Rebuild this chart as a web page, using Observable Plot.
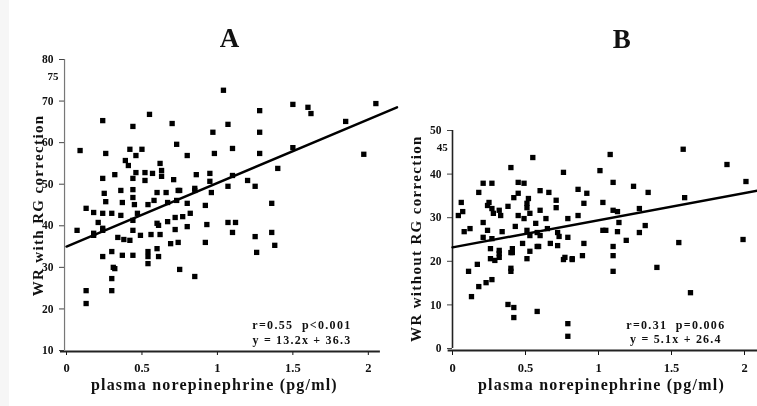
<!DOCTYPE html>
<html><head><meta charset="utf-8">
<script src="https://cdn.jsdelivr.net/npm/d3@7"></script>
<script src="https://cdn.jsdelivr.net/npm/@observablehq/plot@0.6"></script>
<style>
html,body{margin:0;padding:0;background:#fff;width:757px;height:406px;overflow:hidden}
#strip{position:absolute;left:0;top:0;width:9px;height:406px;background:#f6f6f6}
#c svg{position:absolute;left:0;top:0;filter:blur(0.6px);background:transparent}
</style></head><body><div id="strip"></div><div id="c"></div>
<script>
const aX=[1.04,1.50,1.60,1.62,2.05,1.28,1.07,.97,1.28,.55,.24,.44,.70,.73,.09,.26,.42,.50,.46,.80,.98,1.10,1.28,1.50,1.85,1.97,1.40,.39,.41,.46,.44,.62,.63,.63,.52,.57,.52,.24,.32,.71,.86,.95,.95,1.10,1.20,1.25,1.07,1.36,.85,.75,.96,.25,.26,.36,.37,.44,.44,.45,.54,.60,.58,.66,.67,.74,.73,.80,.92,.85,.13,.18,.24,.30,.36,.21,.24,.07,.18,.47,.44,.60,.67,.72,.77,.82,.80,.93,1.07,1.12,1.10,.72,.34,.38,.42,.44,.49,.56,.61,.62,.69,.74,.92,.24,.30,.37,.44,.54,.60,.61,.54,.54,.31,.75,.85,.32,.30,.13,.30,.13,1.25,1.36,1.38,1.26,.18,.24];
const aY=[72.6,69.2,68.5,67.0,69.4,67.7,64.4,62.5,62.5,66.8,65.3,63.9,64.6,59.6,58.1,57.4,58.4,58.4,56.9,56.9,57.4,58.6,57.4,58.8,65.1,57.2,53.8,55.7,54.5,52.8,51.4,55.0,53.3,51.9,52.8,52.6,50.9,51.4,52.3,51.1,52.3,52.6,50.7,52.1,50.9,49.5,49.5,45.4,49.0,48.5,48.0,47.8,45.8,48.5,45.6,48.7,46.8,45.1,45.1,48.0,46.1,48.0,45.6,48.5,46.1,45.4,44.9,48.5,44.2,43.2,43.0,43.0,42.5,40.8,39.4,38.9,38.2,43.0,41.3,40.6,41.0,42.0,42.2,43.0,39.8,40.3,40.8,40.8,38.4,39.1,37.2,36.7,36.5,38.9,37.7,37.9,40.1,37.9,35.7,36.0,36.0,32.6,33.8,32.9,32.9,33.8,34.5,32.6,32.6,30.9,30.0,29.5,27.8,29.7,27.3,24.4,24.4,21.3,37.4,38.4,35.3,33.6,37.7,38.9];
const aPlusX=[.64,1.36,1.07,1.50,.13,1.07,.74,.85,.18,.43,.54];
const aPlusY=[62.5,66.3,55.5,48.5,44.2,35.5,36.0,33.8,27.8,24.7,48.0];
const bX=[1.58,1.88,.55,.40,1.08,.76,1.01,2.01,1.10,1.24,1.34,1.59,.21,.27,.45,.49,.18,.60,.66,.86,.92,.45,.42,.52,.71,.90,1.03,.06,.07,.04,.25,.24,.27,.32,.38,.51,.51,.71,1.13,1.28,.28,.33,.45,.49,.53,.60,.64,.86,.79,1.10,1.14,.21,.24,.12,.08,.21,.27,.34,.43,.57,.51,.53,.58,.60,.65,.72,.73,.79,1.03,1.13,.48,.41,.26,.32,.53,.58,.67,.72,.90,1.10,.26,.32,.29,.40,.51,.77,.82,.89,1.10,.17,.40,1.05,1.19,1.32,1.28,1.55,1.99,1.10,1.40,1.63,.11,.40,.27,.18,.23,.13,.38,.42,.42,.58,.79,.79,.32,.76,.82,.41,.59];
const bY=[45.7,42.2,43.8,41.5,44.5,40.4,40.8,38.3,38.1,37.2,35.8,34.6,37.9,37.9,38.1,37.9,35.8,36.2,35.8,36.5,35.6,35.6,34.6,34.4,34.0,33.3,33.5,33.5,31.4,30.5,33.5,32.8,32.1,31.7,32.6,33.3,32.3,32.3,31.4,32.1,31.0,30.5,30.5,29.8,31.0,31.7,29.8,30.5,29.8,31.7,28.9,28.9,27.1,27.5,26.8,25.5,25.2,26.8,28.0,28.7,27.1,25.9,26.6,25.9,27.5,26.6,25.7,25.5,27.1,26.8,24.1,22.9,22.9,22.5,22.3,23.4,24.1,23.6,24.1,23.4,20.6,20.9,20.2,22.0,20.6,20.9,20.4,21.3,21.3,19.3,18.4,27.1,24.8,28.2,26.6,24.3,25.0,17.7,18.6,12.8,17.7,17.7,15.8,14.2,15.1,11.9,10.1,9.4,7.1,8.5,5.7,2.8,21.8,20.4,20.6,22.0,23.4];
const bPlusX=[.41,.30,.82,.86,1.22,.98,.82,.43];
const bPlusY=[44.3,35.6,36.2,36.5,33.7,31.2,14.0,12.4];
const xTicks=[0,0.5,1,1.5,2];
const aYTicks=[10,20,30,40,50,60,70,80];
const bYTicks=[0,10,20,30,40,50];
const font="Liberation Serif";
function panel(o){
  const bold={fontFamily:font,fontWeight:"bold",fill:"#111"};
  const svg=Plot.plot({
    width:757,height:406,marginLeft:o.left,marginRight:0,marginTop:0,marginBottom:55,
    style:{background:"transparent",fontFamily:font,color:"#111"},
    x:{domain:o.xDomain,range:o.xRange},
    y:{domain:o.yDomain,range:o.yRange},
    marks:[
      Plot.axisX({ticks:xTicks,tickFormat:d=>String(d),tickSize:4,tickPadding:8,label:null,fontSize:12.5,fontWeight:"bold"}),
      Plot.axisY({ticks:o.yTicks,tickFormat:d=>String(d),tickSize:5,tickPadding:6,label:null,fontSize:11.5,fontWeight:"bold",stroke:"#444"}),
      Plot.ruleX([o.yRuleX],{y1:o.yDomain[0],y2:o.yDomain[1],stroke:o.yRuleColor,strokeWidth:o.yRuleWidth}),
      Plot.ruleY([o.yDomain[0]],{x1:o.xAxis[0],x2:o.xAxis[1],dy:o.axisShift,stroke:"#222",strokeWidth:2}),
      Plot.dot(o.xs.map((x,i)=>({x,y:o.ys[i]})),{x:"x",y:"y",symbol:"square",r:3,fill:"#000"}),
      Plot.dot(o.px.map((x,i)=>({x,y:o.py[i]})),{x:"x",y:"y",symbol:"plus",r:3.8,fill:"#000"}),
      Plot.line(o.fit,{x:"x",y:"y",stroke:"#000",strokeWidth:2.4}),
      Plot.text([o.title],{x:o.titlePos[0],y:o.titlePos[1],text:d=>d,fontSize:27,...bold}),
      Plot.text([o.xTitle],{x:o.xTitlePos[0],y:o.xTitlePos[1],text:d=>d,fontSize:16,...bold}),
      Plot.text([o.yTitle],{x:o.yTitlePos[0],y:o.yTitlePos[1],rotate:-90,text:d=>d,fontSize:15,...bold}),
      Plot.text(o.notes,{x:"x",y:"y",text:"t",fontSize:12,...bold}),
      Plot.text([o.stray],{x:o.strayPos[0],y:o.strayPos[1],text:d=>d,fontSize:11,...bold})
    ]
  });
  const spacing=new Map([[o.xTitle,"1.2px"],[o.yTitle,"1.35px"],[o.notes[0].t,"1.3px"],[o.notes[1].t,"1.2px"]]);
  d3.select(svg).selectAll("text").each(function(){
    const s=spacing.get(this.textContent);
    if(s) this.style.letterSpacing=s;
  });
  return svg;
}
const a=panel({left:64,xDomain:[0,2.2],xRange:[66,398],yDomain:[10,80],yRange:[350,59],
  axisShift:1,yTicks:aYTicks,yRuleX:-0.013,yRuleColor:"#777",yRuleWidth:1.2,xAxis:[-0.04,2.08],
  xs:aX,ys:aY,px:aPlusX,py:aPlusY,fit:[{x:0,y:35},{x:2.19,y:68.5}],
  title:"A",titlePos:[1.08,85],xTitle:"plasma norepinephrine (pg/ml)",xTitlePos:[.98,1.8],
  yTitle:"WR with RG correction",yTitlePos:[-.19,44.9],
  notes:[{x:1.56,y:16,t:"r=0.55  p<0.001"},{x:1.56,y:12.4,t:"y = 13.2x + 36.3"}],
  stray:"75",strayPos:[-.09,76]});
const b=panel({left:452,xDomain:[0,2.1],xRange:[452,758.6],yDomain:[0,50],yRange:[348,130],
  axisShift:2,yTicks:bYTicks,yRuleX:0,yRuleColor:"#222",yRuleWidth:1.6,xAxis:[-0.03,2.1],
  xs:bX,ys:bY,px:bPlusX,py:bPlusY,fit:[{x:0,y:23.2},{x:2.09,y:36.2}],
  title:"B",titlePos:[1.16,70.9],xTitle:"plasma norepinephrine (pg/ml)",xTitlePos:[1.02,-8.3],
  yTitle:"WR without RG correction",yTitlePos:[-.25,25.2],
  notes:[{x:1.53,y:5.3,t:"r=0.31  p=0.006"},{x:1.53,y:2.1,t:"y = 5.1x + 26.4"}],
  stray:"45",strayPos:[-.07,46]});
document.getElementById("c").append(a,b);
</script></body></html>
